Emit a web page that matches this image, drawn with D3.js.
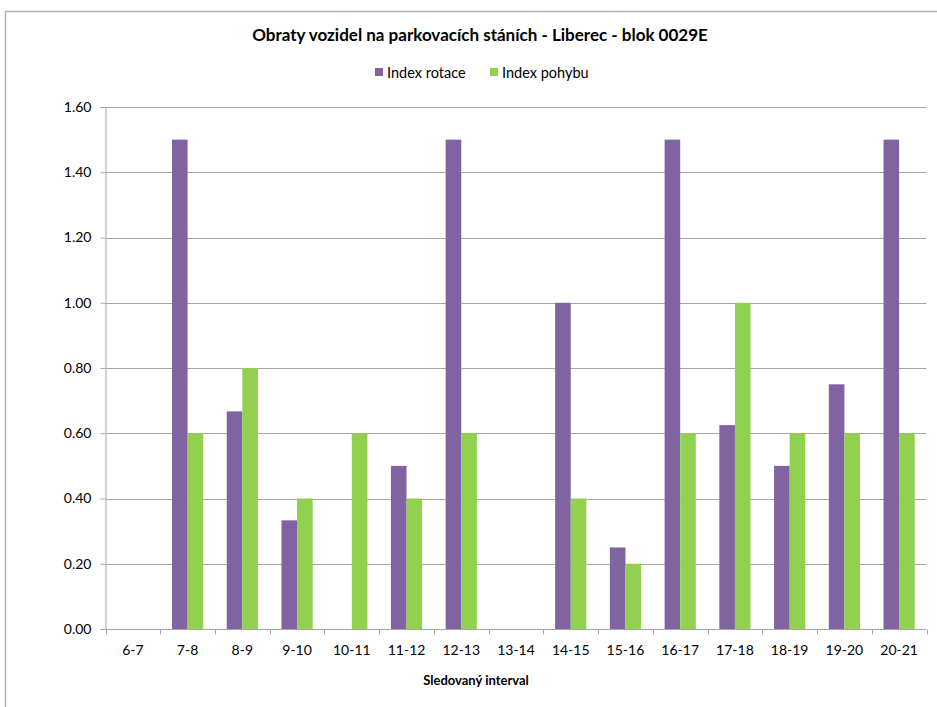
<!DOCTYPE html>
<html><head><meta charset="utf-8">
<script src="https://cdn.jsdelivr.net/npm/d3@7"></script>
<style>body{margin:0;background:#fff}svg{display:block}text{font-family:Lato,"Open Sans",sans-serif;fill:#000}</style>
</head><body><svg id="c" width="937" height="707"></svg>
<script>
const categories=["6-7","7-8","8-9","9-10","10-11","11-12","12-13","13-14","14-15","15-16","16-17","17-18","18-19","19-20","20-21"];
const indexRotace=[0,1.5,0.667,0.333,0,0.5,1.5,0,1.0,0.25,1.5,0.625,0.5,0.75,1.5];
const indexPohybu=[0,0.6,0.8,0.4,0.6,0.4,0.6,0,0.4,0.2,0.6,1.0,0.6,0.6,0.6];
const yTicks=[0,0.2,0.4,0.6,0.8,1.0,1.2,1.4,1.6];
const seriesNames=["Index rotace","Index pohybu"];
const colors=["#8064A2","#92D050"];

const svg=d3.select("#c");
const L=105.5,R=926.5,T=107,B=629;
svg.append("rect").attr("x",5.5).attr("y",11.5).attr("width",940).attr("height",720).attr("fill","none").attr("stroke","#b0b0b0").attr("stroke-width",1.5);

const x=d3.scaleBand().domain(categories).range([L,R]);
const y=d3.scaleLinear().domain([0,1.6]).range([B,T]);

svg.append("g").selectAll("line").data(yTicks.filter(d=>d>0)).join("line")
 .attr("x1",L).attr("x2",R).attr("y1",d=>Math.round(y(d))+0.5).attr("y2",d=>Math.round(y(d))+0.5)
 .attr("stroke","#a6a6a6").attr("stroke-width",1);

const bw=15.6;
const series=[indexRotace,indexPohybu];
series.forEach((vals,si)=>{
  svg.append("g").selectAll("rect").data(vals).join("rect")
   .attr("x",(d,i)=>x(categories[i])+x.bandwidth()/2-bw+si*bw)
   .attr("width",bw)
   .attr("y",d=>y(d)).attr("height",d=>B-y(d))
   .attr("fill",colors[si]);
});

const ya=svg.append("g").attr("transform",`translate(${L},0)`)
 .call(d3.axisLeft(y).tickValues(yTicks).tickFormat(d3.format(".2f")).tickSize(5).tickPadding(9));
ya.select(".domain").attr("stroke","#a6a6a6");
ya.selectAll(".tick line").attr("stroke","#a6a6a6");
ya.selectAll("text").attr("font-size","14px").style("font-family","Lato");

const xa=svg.append("g").attr("transform",`translate(0,${B+0.5})`);
xa.append("line").attr("x1",L-0.5).attr("x2",R).attr("stroke","#a6a6a6");
const bounds=categories.map(c=>x(c)).concat([R]);
xa.selectAll(".tk").data(bounds).join("line").attr("class","tk")
 .attr("x1",d=>Math.round(d)+0.5).attr("x2",d=>Math.round(d)+0.5).attr("y1",0).attr("y2",5).attr("stroke","#a6a6a6");
xa.selectAll(".lb").data(categories).join("text").attr("class","lb")
 .attr("x",d=>x(d)+x.bandwidth()/2).attr("y",25).attr("text-anchor","middle").attr("font-size","14px").text(d=>d);

svg.append("text").attr("x",480).attr("y",41).attr("text-anchor","middle").attr("font-size","17px").attr("font-weight","bold")
 .text("Obraty vozidel na parkovacích stáních - Liberec - blok 0029E");
svg.append("text").attr("x",476).attr("y",685).attr("text-anchor","middle").attr("font-size","13px").attr("font-weight","bold").text("Sledovaný interval");

const lg=svg.append("g");
const lx=[375,490];
seriesNames.forEach((n,i)=>{
  lg.append("rect").attr("x",lx[i]).attr("y",68).attr("width",8).attr("height",8).attr("fill",colors[i]);
  lg.append("text").attr("x",lx[i]+12).attr("y",77.5).attr("font-size","14.5px").text(n);
});
</script></body></html>
